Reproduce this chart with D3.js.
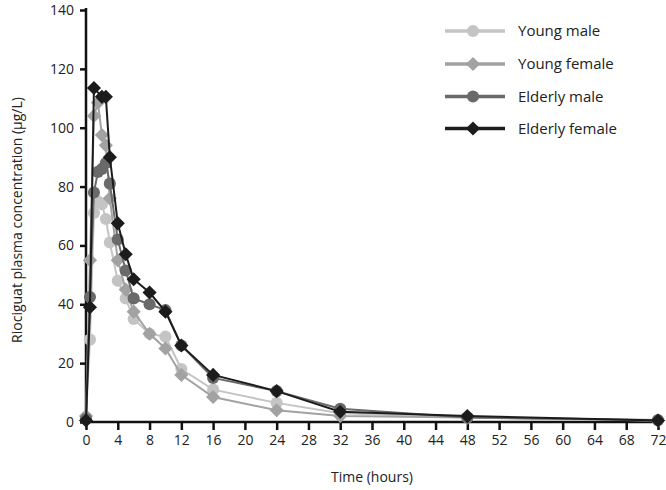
<!DOCTYPE html>
<html><head><meta charset="utf-8">
<script src="https://cdn.jsdelivr.net/npm/d3@7"></script>
<style>body{margin:0;background:#fff}svg{display:block}text{font-family:"Open Sans","Noto Sans",sans-serif}</style>
</head><body><svg id="c" width="666" height="490"></svg>
<script>
const times = [0, 0.5, 1, 1.5, 2, 2.5, 3, 4, 5, 6, 8, 10, 12, 16, 24, 32, 48, 72];
const youngMale     = [1.5, 28, 71, 75, 74, 69, 61, 48, 42, 35, 30, 29, 18, 11, 6.5, 3, 1.5, 0.5];
const youngFemale   = [2, 55, 104, 108.5, 97.5, 94, 76, 55, 45, 37.5, 30, 25, 16, 8.5, 4, 2, 1.5, 0.5];
const elderlyMale   = [1, 42.5, 78, 85, 86, 88, 81, 62, 51.5, 42, 40, 38, 26, 15, 10.5, 4.5, 1.5, 0.7];
const elderlyFemale = [0.5, 39, 113.5, null, 110.5, 110.5, 90, 67.5, 57, 48.5, 44, 37.5, 26, 16, 10.5, 3.5, 2, 0.5];
const seriesNames = ["Young male", "Young female", "Elderly male", "Elderly female"];
const xTicks = d3.range(0, 73, 4);
const yTicks = d3.range(0, 141, 20);

const series = [
  {name: seriesNames[0], values: youngMale, color: "#c4c4c4", shape: "circle"},
  {name: seriesNames[1], values: youngFemale, color: "#a2a2a2", shape: "diamond"},
  {name: seriesNames[2], values: elderlyMale, color: "#6a6a6a", shape: "circle"},
  {name: seriesNames[3], values: elderlyFemale, color: "#1c1c1c", shape: "diamond"}
];

const svg = d3.select("#c");
const x = d3.scaleLinear().domain([0, 72]).range([86, 658]);
const y = d3.scaleLinear().domain([0, 140]).range([422, 10]);

const sym = {
  circle: d3.symbol().type(d3.symbolCircle).size(115),
  diamond: d3.symbol().type(d3.symbolSquare).size(100)
};
function marker(g, s, cx, cy) {
  const p = g.append("path").attr("d", sym[s.shape]()).attr("fill", s.color);
  if (s.shape === "diamond") p.attr("transform", `translate(${cx},${cy}) rotate(45)`);
  else p.attr("transform", `translate(${cx},${cy})`);
}

// axes
const xAxis = svg.append("g").attr("transform", "translate(0,422)")
  .call(d3.axisBottom(x).tickValues(xTicks).tickSize(8).tickPadding(5));
const yAxis = svg.append("g").attr("transform", "translate(86,0)")
  .call(d3.axisLeft(y).tickValues(yTicks).tickSize(6).tickPadding(6));
[xAxis, yAxis].forEach(a => {
  a.select(".domain").attr("stroke", "#111").attr("stroke-width", 2.5);
  a.selectAll(".tick line").attr("stroke", "#111").attr("stroke-width", 2.5);
  a.selectAll(".tick text").attr("font-size", 14).attr("fill", "#222")
    .attr("font-family", '"Open Sans","Noto Sans",sans-serif');
});
xAxis.select(".domain").attr("d", "M86,0H658");
yAxis.select(".domain").attr("d", "M0,422V8");

svg.append("text").attr("x", 372).attr("y", 482).attr("text-anchor", "middle")
  .attr("font-size", 14).attr("fill", "#222").text("Time (hours)");
svg.append("text").attr("transform", "translate(22,220) rotate(-90)").attr("text-anchor", "middle")
  .attr("font-size", 14).attr("fill", "#222").text("Riociguat plasma concentration (µg/L)");

// lines and markers
series.forEach(s => {
  const pts = times.map((t, i) => ({t, v: s.values[i]})).filter(d => d.v != null);
  svg.append("path").datum(pts)
    .attr("fill", "none").attr("stroke", s.color).attr("stroke-width", 2)
    .attr("d", d3.line().x(d => x(d.t)).y(d => y(d.v)));
  const g = svg.append("g");
  pts.forEach(d => marker(g, s, x(d.t), y(d.v)));
});

// legend
const legY = [31, 64, 96.5, 128.5];
series.forEach((s, i) => {
  const g = svg.append("g");
  g.append("line").attr("x1", 445).attr("x2", 505).attr("y1", legY[i]).attr("y2", legY[i])
    .attr("stroke", s.color).attr("stroke-width", 3.5);
  marker(g, s, 473, legY[i]);
  g.append("text").attr("x", 518).attr("y", legY[i] + 5).attr("font-size", 15)
    .attr("fill", "#222").text(s.name);
});
</script></body></html>
